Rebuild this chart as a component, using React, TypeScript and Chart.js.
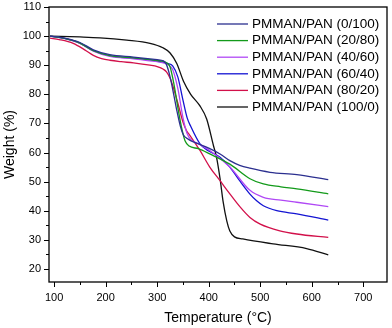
import React, { useEffect, useRef } from "react";
import { Chart, registerables } from "chart.js";

Chart.register(...registerables);

const FONT = "'Liberation Sans', Arial, sans-serif";

const seriesLabels = [
  "PMMAN/PAN (0/100)",
  "PMMAN/PAN (20/80)",
  "PMMAN/PAN (40/60)",
  "PMMAN/PAN (60/40)",
  "PMMAN/PAN (80/20)",
  "PMMAN/PAN (100/0)",
];
const seriesColors = ["#2b2f8f", "#139a1a", "#b048f5", "#1414d2", "#d2104a", "#111111"];

const T_0_100 = [92, 120, 150, 176, 208, 254, 286, 300, 312, 318, 325, 332, 338, 345, 351, 360, 375, 400, 422, 441, 460, 480, 519, 571, 632];
const W_0_100 = [100, 99.3, 97.8, 95.3, 93.6, 92.8, 92.2, 91.9, 91.5, 90.2, 86, 80, 74.5, 69, 66, 64.6, 63.3, 61.5, 59.5, 57.2, 55.6, 54.6, 53.2, 52.4, 50.7];

const T_20_80 = [92, 120, 150, 176, 208, 254, 286, 300, 312, 318, 325, 333, 341, 348, 354, 362, 380, 402, 441, 480, 506, 540, 571, 632];
const W_20_80 = [100, 99.2, 97.6, 95, 93.3, 92.5, 91.9, 91.6, 91.3, 90.8, 89.4, 83, 74.5, 68, 64, 62.2, 61.3, 59.5, 56, 51, 49.2, 48.2, 47.5, 45.8];

const T_40_60 = [92, 120, 150, 176, 208, 254, 286, 300, 312, 320, 330, 340, 350, 358, 365, 380, 402, 441, 480, 506, 540, 571, 632];
const W_40_60 = [100, 99.2, 97.5, 94.8, 93, 92.2, 91.5, 91.2, 90.8, 90.3, 88.5, 82, 72, 66.5, 64.5, 63, 60.7, 55, 47, 44.6, 43.6, 42.9, 41.4];

const T_60_40 = [92, 120, 150, 176, 208, 254, 286, 300, 312, 320, 330, 340, 350, 358, 365, 383, 400, 422, 441, 460, 480, 493, 506, 532, 571, 632];
const W_60_40 = [100, 99.2, 97.6, 95, 93.2, 92.4, 91.8, 91.4, 91, 90.6, 89.8, 86, 78, 72, 69, 63, 60.5, 58.4, 55, 50.3, 45.7, 43.4, 41.7, 40, 38.9, 36.8];

const T_80_20 = [92, 110, 137, 160, 176, 192, 208, 230, 254, 286, 300, 312, 318, 325, 331, 340, 350, 357, 363, 383, 402, 422, 441, 460, 480, 500, 538, 571, 632];
const W_80_20 = [99.3, 98.8, 97.5, 95.2, 93.4, 92.3, 91.7, 91.2, 90.8, 90, 89.5, 88.6, 87.7, 85.5, 82.5, 77, 70.5, 67.5, 66, 60.7, 55, 50.3, 45.8, 41.5, 37.7, 35.4, 33.1, 32, 30.8];

const T_100_0 = [92, 150, 189, 241, 286, 311, 325, 338, 351, 365, 383, 396, 409, 415, 422, 428, 435, 441, 450, 466, 525, 590, 632];
const W_100_0 = [100, 99.7, 99.4, 98.6, 97.5, 96, 94.2, 90.6, 84.5, 80, 76, 71.5, 62.5, 58.5, 51, 43, 36.5, 33, 31, 30.3, 28.6, 27, 24.8];

const seriesT = [T_0_100, T_20_80, T_40_60, T_60_40, T_80_20, T_100_0];
const seriesW = [W_0_100, W_20_80, W_40_60, W_60_40, W_80_20, W_100_0];

const xTicks = [100, 150, 200, 250, 300, 350, 400, 450, 500, 550, 600, 650, 700];
const yTicks = [20, 25, 30, 35, 40, 45, 50, 55, 60, 65, 70, 75, 80, 85, 90, 95, 100, 105, 110];

const framePlugin = {
  id: "frameAndLegend",
  afterDraw(chart: any) {
    const ctx = chart.ctx;
    const a = chart.chartArea;
    const xs = chart.scales.x;
    const ys = chart.scales.y;
    ctx.save();
    ctx.strokeStyle = "#000";
    ctx.lineWidth = 1.3;
    ctx.strokeRect(a.left, a.top, a.right - a.left, a.bottom - a.top);
    ctx.lineWidth = 1;
    ctx.beginPath();
    xTicks.forEach((v) => {
      const px = Math.round(xs.getPixelForValue(v)) + 0.5;
      const len = v % 100 === 0 ? 5 : 3;
      ctx.moveTo(px, a.bottom);
      ctx.lineTo(px, a.bottom + len);
    });
    yTicks.forEach((v) => {
      const py = Math.round(ys.getPixelForValue(v)) + 0.5;
      const len = v % 10 === 0 ? 5 : 3;
      ctx.moveTo(a.left, py);
      ctx.lineTo(a.left - len, py);
    });
    ctx.stroke();

    // legend
    ctx.font = `13.5px ${FONT}`;
    ctx.textBaseline = "middle";
    ctx.textAlign = "left";
    chart.data.datasets.forEach((ds: any, i: number) => {
      const y = a.top + 17 + i * 16.6;
      ctx.strokeStyle = ds.borderColor;
      ctx.lineWidth = 1.3;
      ctx.beginPath();
      ctx.moveTo(a.right - 170, y);
      ctx.lineTo(a.right - 139, y);
      ctx.stroke();
      ctx.fillStyle = "#000";
      ctx.fillText(ds.label, a.right - 135, y);
    });
    ctx.restore();
  },
};

export default function App() {
  const ref = useRef<HTMLCanvasElement>(null);
  useEffect(() => {
    if (!ref.current) return;
    const chart = new Chart(ref.current, {
      type: "line",
      data: {
        datasets: seriesLabels.map((label, i) => ({
          label,
          data: seriesT[i].map((t, j) => ({ x: t, y: seriesW[i][j] })),
          borderColor: seriesColors[i],
          backgroundColor: seriesColors[i],
          borderWidth: 1.3,
          pointRadius: 0,
          cubicInterpolationMode: "monotone" as const,
          fill: false,
        })),
      },
      options: {
        animation: false,
        responsive: false,
        devicePixelRatio: 1,
        layout: { padding: { top: 0, right: 5, left: 0, bottom: 0 } },
        plugins: { legend: { display: false }, tooltip: { enabled: false } },
        scales: {
          x: {
            type: "linear",
            min: 90,
            max: 746,
            afterBuildTicks: (s: any) => {
              s.ticks = xTicks.map((v) => ({ value: v }));
            },
            afterFit: (s: any) => {
              s.height = 46;
            },
            grid: { display: false, drawTicks: false },
            border: { display: false },
            ticks: {
              autoSkip: false,
              maxRotation: 0,
              padding: 9,
              color: "#000",
              font: { family: FONT, size: 11 },
              callback: (v: any) => (v % 100 === 0 ? String(v) : ""),
            },
            title: {
              display: true,
              text: "Temperature (°C)",
              color: "#000",
              font: { family: FONT, size: 14 },
              padding: { top: 0, bottom: 1 },
            },
          },
          y: {
            type: "linear",
            min: 15.5,
            max: 110,
            afterBuildTicks: (s: any) => {
              s.ticks = yTicks.map((v) => ({ value: v }));
            },
            afterFit: (s: any) => {
              s.width = 49;
              s.paddingTop = 7;
              s.paddingBottom = 0;
            },
            grid: { display: false, drawTicks: false },
            border: { display: false },
            ticks: {
              autoSkip: false,
              padding: 8,
              color: "#000",
              font: { family: FONT, size: 11 },
              callback: (v: any) => (v % 10 === 0 ? String(v) : ""),
            },
            title: {
              display: true,
              text: "Weight (%)",
              color: "#000",
              font: { family: FONT, size: 14 },
              padding: { top: 2, bottom: 0 },
            },
          },
        },
      },
      plugins: [framePlugin],
    });
    return () => chart.destroy();
  }, []);
  return (
    <div style={{ position: "absolute", left: 0, top: 0, width: 392, height: 328, background: "#fff" }}>
      <canvas ref={ref} width={392} height={328} />
    </div>
  );
}
